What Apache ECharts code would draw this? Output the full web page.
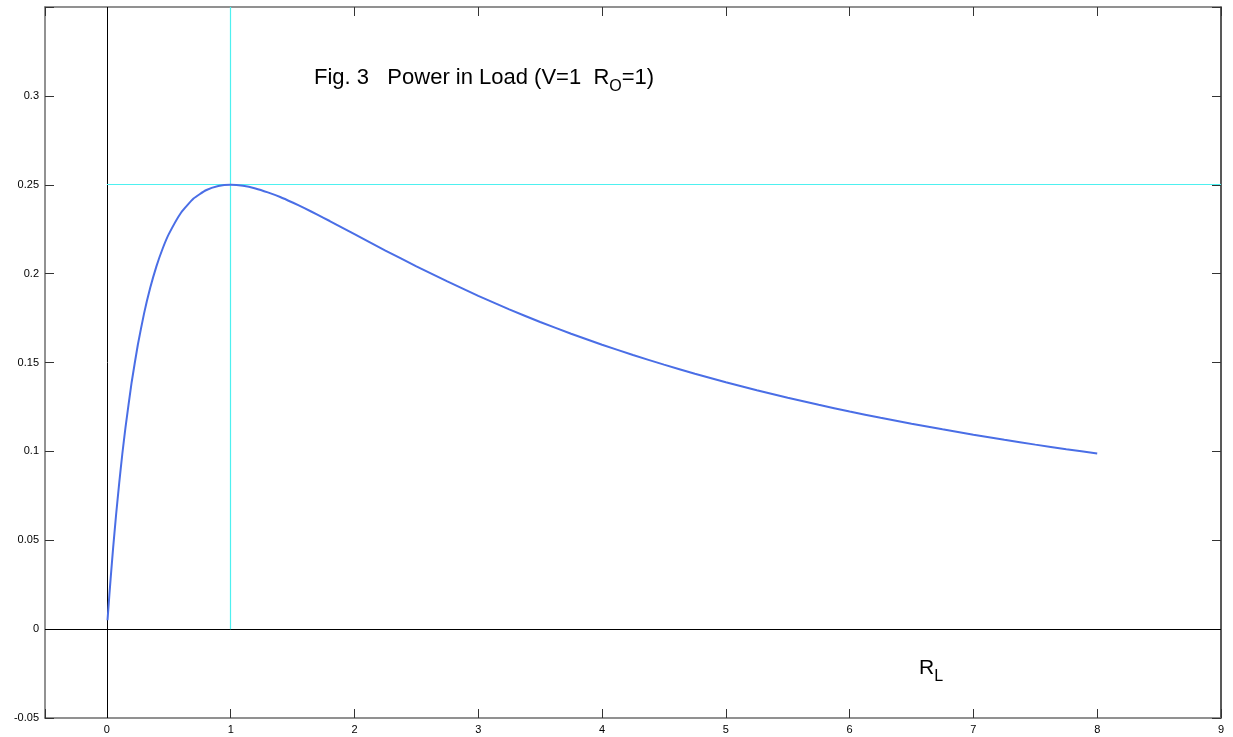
<!DOCTYPE html>
<html>
<head>
<meta charset="utf-8">
<title>Fig. 3 Power in Load</title>
<script src="https://cdn.jsdelivr.net/npm/echarts@6/dist/echarts.min.js"></script>
<style>
  html, body { margin: 0; padding: 0; background: #fff; }
  #chart { width: 1233px; height: 737px; }
</style>
</head>
<body>
<div id="chart"></div>
<script>
// load resistance R_L
var loadR = [0.005, 0.01, 0.02, 0.03, 0.05, 0.075, 0.1, 0.125, 0.15, 0.2, 0.25, 0.3, 0.35, 0.4, 0.45, 0.5,
             0.6, 0.7, 0.8, 0.9, 1.0, 1.1, 1.2, 1.3, 1.4, 1.5, 1.6, 1.7, 1.8, 1.9, 2.0,
             2.25, 2.5, 2.75, 3.0, 3.25, 3.5, 3.75, 4.0, 4.25, 4.5, 4.75, 5.0, 5.25, 5.5, 5.75,
             6.0, 6.25, 6.5, 6.75, 7.0, 7.25, 7.5, 7.75, 8.0];
// power in load
var loadP = [0.005, 0.0098, 0.0192, 0.0283, 0.0454, 0.0649, 0.0826, 0.0988, 0.1134, 0.1389, 0.16, 0.1775, 0.192, 0.2041, 0.214, 0.2222,
             0.2344, 0.2422, 0.2469, 0.2493, 0.25, 0.2494, 0.2479, 0.2457, 0.2431, 0.24, 0.2367, 0.2332, 0.2296, 0.2259, 0.2222,
             0.213, 0.2041, 0.1956, 0.1875, 0.1799, 0.1728, 0.1662, 0.16, 0.1542, 0.1488, 0.1437, 0.1389, 0.1344, 0.1302, 0.1262,
             0.1224, 0.1189, 0.1156, 0.1124, 0.1094, 0.1065, 0.1038, 0.1012, 0.0988];

var xTicks = [0, 1, 2, 3, 4, 5, 6, 7, 8, 9];
var yTicks = [-0.05, 0, 0.05, 0.1, 0.15, 0.2, 0.25, 0.3];

// reference lines (max power point)
var peakR = 1;
var peakP = 0.25;

var xMin = -0.5, xMax = 9;
var yMin = -0.05, yMax = 0.35;

function initPowerChart(){
    var e = echarts.init(document.getElementById("chart"));

    var points = loadR.map(function (r, i) { return [r, loadP[i]]; });

    var font = 'Arial, "Liberation Sans", sans-serif';
    var tickFont = { color: '#000', fontSize: 11, fontFamily: font };

    var option = {
        animation: false,
        backgroundColor: '#fff',
        grid: { left: 45, right: 12, top: 7, bottom: 19, containLabel: false },
        xAxis: [
            {
                type: 'value', min: xMin, max: xMax, splitNumber: 10, position: 'bottom',
                axisLine: { onZero: false, lineStyle: { color: '#6e6e6e', width: 1.5 } },
                axisTick: { inside: true, length: 9, lineStyle: { color: '#333' } },
                axisLabel: Object.assign({
                    margin: 6,
                    formatter: function (v) { return xTicks.indexOf(v) >= 0 ? String(v) : ''; }
                }, tickFont),
                splitLine: { show: false }
            },
            {
                type: 'value', min: xMin, max: xMax, splitNumber: 10, position: 'top',
                axisLine: { onZero: false, lineStyle: { color: '#6e6e6e', width: 1.5 } },
                axisTick: { inside: true, length: 9, lineStyle: { color: '#333' } },
                axisLabel: { show: false },
                splitLine: { show: false }
            }
        ],
        yAxis: [
            {
                type: 'value', min: yMin, max: yMax, interval: 0.05, position: 'left',
                axisLine: { onZero: false, lineStyle: { color: '#6e6e6e', width: 1.5 } },
                axisTick: { inside: true, length: 9, lineStyle: { color: '#333' } },
                axisLabel: Object.assign({
                    margin: 6,
                    formatter: function (v) {
                        var r = Math.round(v * 100) / 100;
                        return yTicks.indexOf(r) >= 0 ? String(r) : '';
                    }
                }, tickFont),
                splitLine: { show: false }
            },
            {
                type: 'value', min: yMin, max: yMax, interval: 0.05, position: 'right',
                axisLine: { onZero: false, lineStyle: { color: '#222', width: 1.5 } },
                axisTick: { inside: true, length: 9, lineStyle: { color: '#333' } },
                axisLabel: { show: false },
                splitLine: { show: false }
            }
        ],
        series: [
            {
                name: '参考线',
                type: 'line',
                data: [],
                silent: true,
                markLine: {
                    silent: true,
                    symbol: 'none',
                    label: { show: false },
                    animation: false,
                    data: [
                        [{ coord: [0, yMin], lineStyle: { color: '#000', width: 1, type: 'solid' } }, { coord: [0, yMax] }],
                        [{ coord: [xMin, 0], lineStyle: { color: '#000', width: 1, type: 'solid' } }, { coord: [xMax, 0] }],
                        [{ coord: [peakR, 0], lineStyle: { color: '#4ef0f0', width: 1.2, type: 'solid' } }, { coord: [peakR, yMax] }],
                        [{ coord: [0, peakP], lineStyle: { color: '#4ef0f0', width: 1.2, type: 'solid' } }, { coord: [xMax, peakP] }]
                    ]
                }
            },
            {
                name: 'P',
                type: 'line',
                data: points,
                smooth: 0.15,
                showSymbol: false,
                lineStyle: { color: '#4a6ee6', width: 2 },
                z: 5
            }
        ],
        graphic: [
            {
                type: 'text',
                left: 314,
                top: 67,
                style: {
                    text: '{n|Fig. 3   Power in Load (V=1  R}{s|O}{n|=1)}',
                    rich: {
                        n: { fontSize: 22, fontFamily: font, fill: '#000', lineHeight: 24, padding: [0, 0, 6, 0], verticalAlign: 'bottom' },
                        s: { fontSize: 16, fontFamily: font, fill: '#000', lineHeight: 17, verticalAlign: 'bottom' }
                    }
                }
            },
            {
                type: 'text',
                left: 919,
                top: 658,
                style: {
                    text: '{n|R}{s|L}',
                    rich: {
                        n: { fontSize: 21, fontFamily: font, fill: '#000', lineHeight: 23, padding: [0, 0, 6, 0], verticalAlign: 'bottom' },
                        s: { fontSize: 16, fontFamily: font, fill: '#000', lineHeight: 17, verticalAlign: 'bottom' }
                    }
                }
            }
        ]
    };
    e.setOption(option);
}

initPowerChart();
</script>
</body>
</html>
